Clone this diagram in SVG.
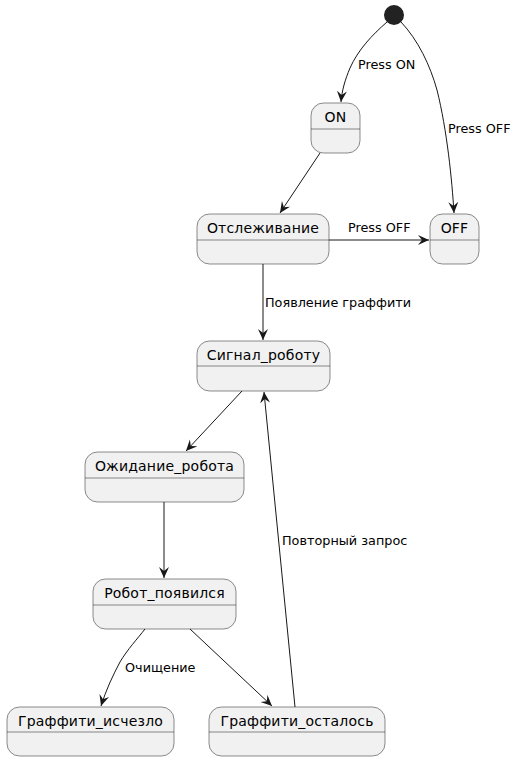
<svg xmlns="http://www.w3.org/2000/svg" width="517" height="761" viewBox="0 0 517 761">
<style>
.st{fill:#F1F1F1;stroke:#181818;stroke-width:0.5}
.dv{stroke:#181818;stroke-width:0.5}
.nm{font-family:"DejaVu Sans",sans-serif;font-size:14px;letter-spacing:0.2px;fill:#000;text-anchor:middle}
.lb{font-family:"DejaVu Sans",sans-serif;font-size:12.8px;fill:#000}
.ln{fill:none;stroke:#181818;stroke-width:1;marker-end:url(#ah)}
</style>
<defs>
<marker id="ah" markerUnits="userSpaceOnUse" markerWidth="13" markerHeight="11" refX="11" refY="5" orient="auto" viewBox="0 0 13 11">
<path d="M0,0 L11,5 L0,10 L4,5 Z" fill="#181818"/>
</marker>
</defs>
<rect width="517" height="761" fill="#FFFFFF"/>
<g id="initial"><circle cx="394" cy="15" r="10" fill="#222222"/></g>
<g id="ON"><rect class="st" x="311" y="103" width="49" height="50" rx="12.5"/><line class="dv" x1="311" y1="129" x2="360" y2="129"/><text class="nm" x="335.5" y="122">ON</text></g>
<g id="tracking"><rect class="st" x="197" y="214" width="132" height="50" rx="12.5"/><line class="dv" x1="197" y1="240" x2="329" y2="240"/><text class="nm" x="263" y="233">Отслеживание</text></g>
<g id="OFF"><rect class="st" x="430" y="214" width="49" height="50" rx="12.5"/><line class="dv" x1="430" y1="240" x2="479" y2="240"/><text class="nm" x="454.5" y="233">OFF</text></g>
<g id="signal"><rect class="st" x="197" y="341" width="133" height="50" rx="12.5"/><line class="dv" x1="197" y1="366" x2="330" y2="366"/><text class="nm" x="263.5" y="360">Сигнал_роботу</text></g>
<g id="waiting"><rect class="st" x="85" y="452" width="159" height="50" rx="12.5"/><line class="dv" x1="85" y1="478" x2="244" y2="478"/><text class="nm" x="164.5" y="471">Ожидание_робота</text></g>
<g id="robot"><rect class="st" x="93" y="579" width="143" height="50" rx="12.5"/><line class="dv" x1="93" y1="605" x2="236" y2="605"/><text class="nm" x="164.5" y="598">Робот_появился</text></g>
<g id="gone"><rect class="st" x="7" y="707" width="167" height="49" rx="12.5"/><line class="dv" x1="7" y1="732" x2="174" y2="732"/><text class="nm" x="90.5" y="726">Граффити_исчезло</text></g>
<g id="remain"><rect class="st" x="209" y="707" width="176" height="49" rx="12.5"/><line class="dv" x1="209" y1="732" x2="385" y2="732"/><text class="nm" x="297" y="726">Граффити_осталось</text></g>
<g id="connectors">
<path class="ln" d="M387,22 C372,35 358,50 350,68 C345,80 342,90 341,102"/>
<text class="lb" x="358" y="69">Press ON</text>
<path class="ln" d="M401,22 C418,40 430,65 437,90 C447,130 452,180 454,213"/>
<text class="lb" x="448" y="133">Press OFF</text>
<path class="ln" d="M329,240 L429,240"/>
<text class="lb" x="348" y="232">Press OFF</text>
<path class="ln" d="M320,153 L280,213"/>
<path class="ln" d="M263,264 L263,340"/>
<text class="lb" x="265" y="307">Появление граффити</text>
<path class="ln" d="M242,391 L186,451"/>
<path class="ln" d="M164,502 L164,578"/>
<path class="ln" d="M145,629 C138,638 127,650 120,662 C113,675 106,690 101,706"/>
<text class="lb" x="125" y="672">Очищение</text>
<path class="ln" d="M190,629 L272,706"/>
<path class="ln" d="M295,707 L264,392"/>
<text class="lb" x="282" y="545">Повторный запрос</text>
</g>
</svg>
